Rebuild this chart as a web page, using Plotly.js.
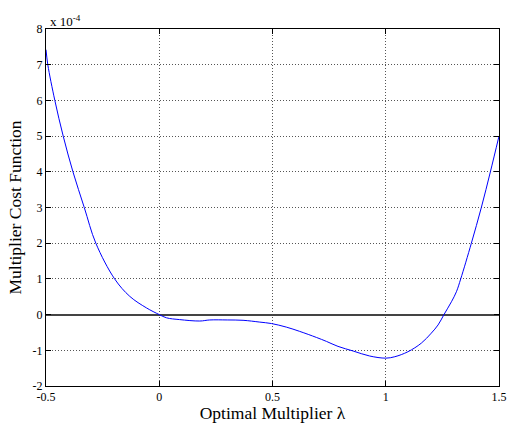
<!DOCTYPE html>
<html>
<head>
<meta charset="utf-8">
<script src="https://cdn.plot.ly/plotly-3.0.1.min.js"></script>
<style>html,body{margin:0;padding:0;background:#fff;}#chart{width:509px;height:423px;}</style>
</head>
<body>
<div id="chart"></div>
<script>
// Multiplier cost function, values in units of 1e-4
const lambdaValues = [-0.5, -0.492, -0.461, -0.424, -0.381, -0.331, -0.28, -0.197, -0.13, -0.057, 0.0, 0.032, 0.09, 0.179, 0.223, 0.3, 0.37, 0.444, 0.495, 0.561, 0.62, 0.694, 0.738, 0.789, 0.856, 0.929, 1.0, 1.04, 1.098, 1.157, 1.201, 1.231, 1.257, 1.29, 1.312, 1.331, 1.378, 1.422, 1.462, 1.5];
const costValues = [7.42, 7.0, 6.0, 5.0, 4.0, 3.0, 2.0, 1.0, 0.51, 0.19, 0.0, -0.09, -0.14, -0.18, -0.15, -0.15, -0.16, -0.21, -0.25, -0.35, -0.47, -0.64, -0.75, -0.89, -1.02, -1.16, -1.22, -1.18, -1.04, -0.80, -0.52, -0.29, 0.0, 0.36, 0.64, 1.0, 2.0, 3.0, 4.0, 5.0];
const xTickVals = [-0.5, 0, 0.5, 1, 1.5];
const xTickText = ['-0.5', '0', '0.5', '1', '1.5'];
const yTickVals = [-2, -1, 0, 1, 2, 3, 4, 5, 6, 7, 8];
const yTickText = ['-2', '-1', '0', '1', '2', '3', '4', '5', '6', '7', '8'];

const font = {family: '"Liberation Serif", "Times New Roman", serif', color: '#000'};

const trace = {
  x: lambdaValues, y: costValues, type: 'scatter', mode: 'lines',
  line: {color: '#0000ff', width: 1, shape: 'spline', smoothing: 1},
  hoverinfo: 'skip'
};

const axisCommon = {
  showline: true, linecolor: '#000', linewidth: 1, mirror: 'ticks',
  ticks: 'inside', ticklen: 5, tickcolor: '#000', tickwidth: 1,
  showgrid: true, gridcolor: '#555', griddash: '1px,2px', gridwidth: 1,
  tickfont: Object.assign({size: 12}, font)
};

const layout = {
  width: 509, height: 423,
  margin: {l: 46, r: 10, t: 29, b: 37},
  paper_bgcolor: '#fff', plot_bgcolor: '#fff',
  showlegend: false,
  font: font,
  xaxis: Object.assign({}, axisCommon, {
    range: [-0.5, 1.5], tickmode: 'array', tickvals: xTickVals, ticktext: xTickText,
    zeroline: false,
    title: {text: 'Optimal Multiplier λ', font: Object.assign({size: 17.5}, font), standoff: 2}
  }),
  yaxis: Object.assign({}, axisCommon, {
    range: [-2, 8], tickmode: 'array', tickvals: yTickVals, ticktext: yTickText,
    zeroline: true, zerolinecolor: '#444', zerolinewidth: 2,
    title: {text: 'Multiplier Cost Function', font: Object.assign({size: 17.5}, font), standoff: 6}
  }),
  annotations: [{
    xref: 'paper', yref: 'paper', x: 0, y: 1, xanchor: 'left', yanchor: 'bottom',
    text: 'x 10<sup>-4</sup>', showarrow: false, xshift: 2, yshift: -2,
    font: Object.assign({size: 13}, font)
  }]
};

Plotly.newPlot('chart', [trace], layout, {displayModeBar: false, staticPlot: true});
</script>
</body>
</html>
